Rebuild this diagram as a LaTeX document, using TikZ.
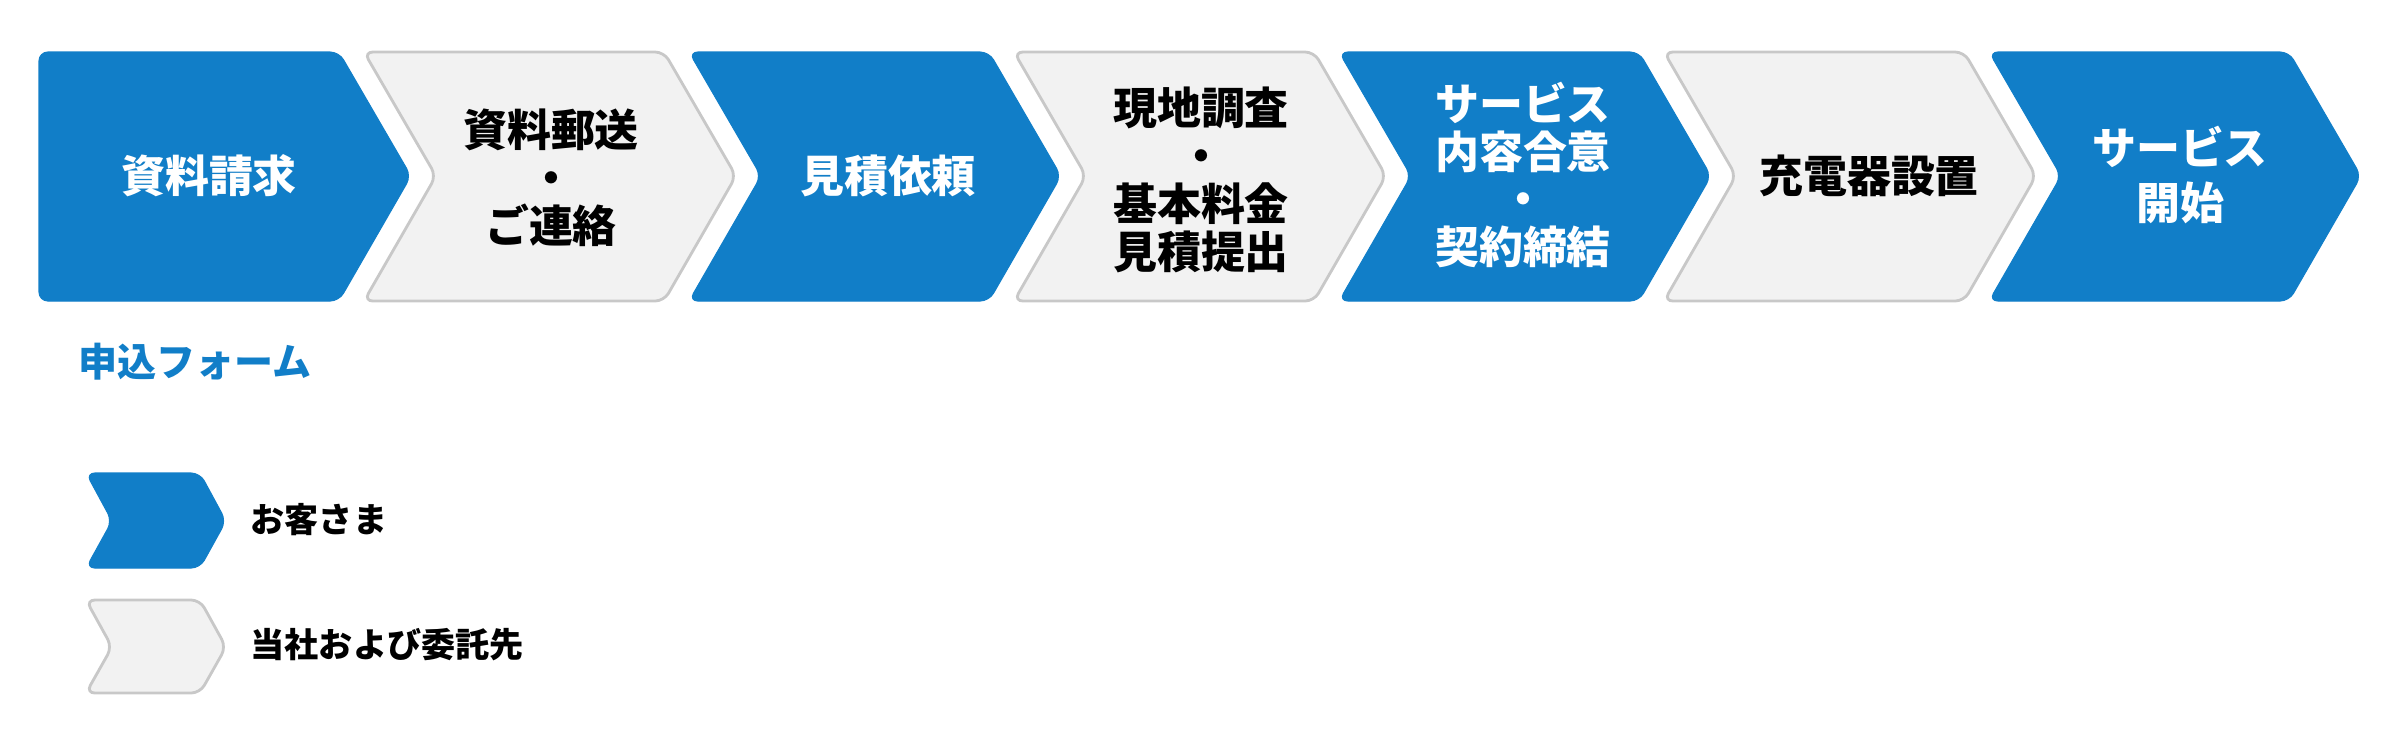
\documentclass[tikz,border=0pt]{standalone}
\usepackage{fontspec}
\setmainfont{Noto Sans CJK JP}
\usepackage{tikz}
\usetikzlibrary{calc}

\definecolor{stepblue}{RGB}{17,126,200}
\definecolor{stepgrey}{RGB}{242,242,242}
\definecolor{stepline}{RGB}{200,200,200}

\begin{document}
\begin{tikzpicture}[x=0.01cm, y=-0.01cm,
	cust/.style={fill=stepblue, draw=stepblue, line width=0.3pt, rounded corners=2.5pt},
	firm/.style={fill=stepgrey, draw=stepline, line width=0.8pt, rounded corners=2.5pt},
	wtxt/.style={text=white, inner sep=0pt, align=center, font=\fontsize{12.5}{13.6}\selectfont\bfseries},
	btxt/.style={text=black, inner sep=0pt, align=center, font=\fontsize{12.5}{13.6}\selectfont\bfseries},
	ltxt/.style={text=black, inner sep=0pt, anchor=west, font=\fontsize{9.7}{11}\selectfont\bfseries}]

	\useasboundingbox (0,0) rectangle (2400,750);

	% steps
	\draw[cust] (39,52) -- (339,52) -- (411,176) -- (339,301) -- (39,301) -- cycle;
	\draw[firm] (364,52) -- (664,52) -- (736,176) -- (664,301) -- (364,301) -- (436,176) -- cycle;
	\draw[cust] (689,52) -- (989,52) -- (1061,176) -- (989,301) -- (689,301) -- (761,176) -- cycle;
	\draw[firm] (1014,52) -- (1314,52) -- (1386,176) -- (1314,301) -- (1014,301) -- (1086,176) -- cycle;
	\draw[cust] (1339,52) -- (1639,52) -- (1711,176) -- (1639,301) -- (1339,301) -- (1411,176) -- cycle;
	\draw[firm] (1664,52) -- (1964,52) -- (2036,176) -- (1964,301) -- (1664,301) -- (1736,176) -- cycle;
	\draw[cust] (1989,52) -- (2289,52) -- (2361,176) -- (2289,301) -- (1989,301) -- (2061,176) -- cycle;

	\node[wtxt] (req) at (209,176) {資料請求};
	\node[btxt] (mail) at (551,178) {資料郵送\\・\\ご連絡};
	\node[wtxt] (quote) at (888,176) {見積依頼};
	\node[btxt] (survey) at (1201,180) {現地調査\\・\\基本料金\\見積提出};
	\node[wtxt] (contract) at (1523,175) {サービス\\内容合意\\・\\契約締結};
	\node[btxt] (install) at (1869,176) {充電器設置};
	\node[wtxt, font=\fontsize{12.5}{15.5}\selectfont\bfseries] (start) at (2180,175) {サービス\\開始};

	\node[text=stepblue, inner sep=0pt, anchor=west, font=\fontsize{11.1}{12}\selectfont\bfseries] (form) at (78,362) {申込フォーム};

	% legend
	\draw[cust] (86,473) -- (200,473) -- (226,521) -- (200,568) -- (86,568) -- (112,521) -- cycle;
	\draw[firm] (86,600) -- (200,600) -- (226,647) -- (200,693) -- (86,693) -- (112,647) -- cycle;
	\node[ltxt] (lgcust) at (250,520) {お客さま};
	\node[ltxt] (lgfirm) at (250,645) {当社および委託先};
\end{tikzpicture}
\end{document}
